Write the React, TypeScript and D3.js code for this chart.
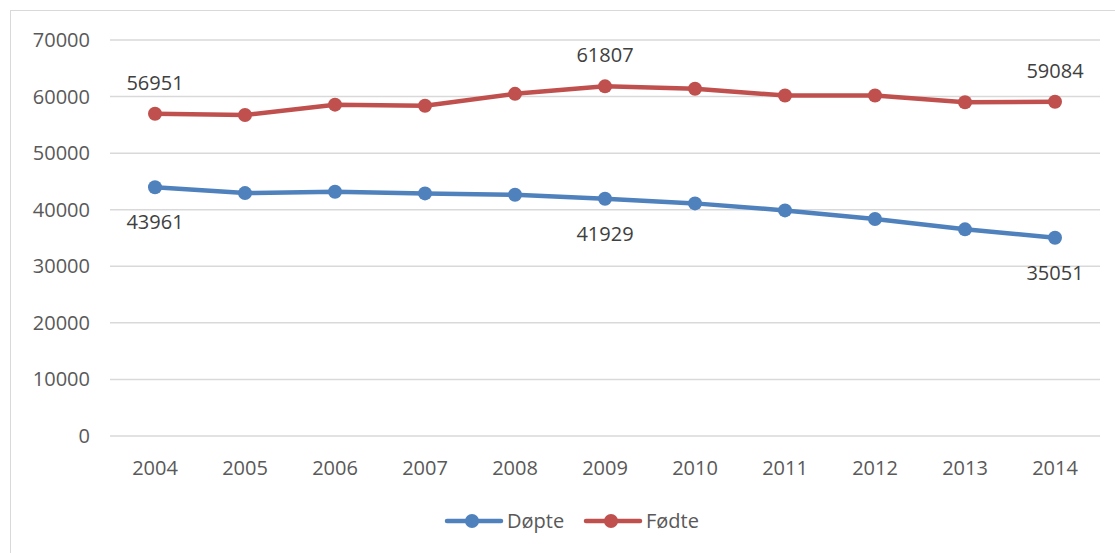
import React from "react";
import * as d3 from "d3";

const years = ["2004", "2005", "2006", "2007", "2008", "2009", "2010", "2011", "2012", "2013", "2014"];
const dopte = [43961, 42941, 43180, 42880, 42650, 41929, 41120, 39880, 38350, 36530, 35051];
const fodte = [56951, 56730, 58570, 58390, 60480, 61807, 61370, 60180, 60180, 58990, 59084];
const yTicks = [0, 10000, 20000, 30000, 40000, 50000, 60000, 70000];
const labelYears = ["2004", "2009", "2014"];

const W = 1115;
const H = 553;
const plotLeft = 110;
const plotRight = 1100;
const plotTop = 40;
const plotBottom = 436;

const BLUE = "#4F81BD";
const RED = "#C0504D";
const TEXT = "#595959";
const GRID = "#D9D9D9";
const FONT = "'Open Sans', 'Liberation Sans', sans-serif";

export default function App() {
  const x = d3.scaleBand<string>().domain(years).range([plotLeft, plotRight]);
  const cx = (yr: string) => (x(yr) as number) + x.bandwidth() / 2;
  const y = d3.scaleLinear().domain([0, 70000]).range([plotBottom, plotTop]);
  const line = d3
    .line<number>()
    .x((_, i) => cx(years[i]))
    .y((d) => y(d));

  const series = [
    { name: "Døpte", values: dopte, color: BLUE, above: false },
    { name: "Fødte", values: fodte, color: RED, above: true },
  ];

  return (
    <svg width={W} height={H} style={{ position: "absolute", left: 0, top: 0, background: "#fff" }} fontFamily={FONT}>
      <rect x={10.5} y={10.5} width={1200} height={700} fill="#fff" stroke="#D9D9D9" strokeWidth={1} />
      {yTicks.map((t) => (
        <g key={t}>
          <line x1={plotLeft} x2={plotRight} y1={y(t)} y2={y(t)} stroke={GRID} strokeWidth={1.5} />
          <text x={90} y={y(t) + 7} textAnchor="end" fontSize={20} fill={TEXT}>
            {t}
          </text>
        </g>
      ))}
      {years.map((yr) => (
        <text key={yr} x={cx(yr)} y={475} textAnchor="middle" fontSize={20} fill={TEXT}>
          {yr}
        </text>
      ))}
      {series.map((s) => (
        <g key={s.name}>
          <path d={line(s.values) || ""} fill="none" stroke={s.color} strokeWidth={4.5} strokeLinejoin="round" />
          {s.values.map((v, i) => (
            <circle key={i} cx={cx(years[i])} cy={y(v)} r={7} fill={s.color} />
          ))}
          {s.values.map((v, i) =>
            labelYears.includes(years[i]) ? (
              <text
                key={"l" + i}
                x={cx(years[i])}
                y={s.above ? y(v) - 24 : y(v) + 42}
                textAnchor="middle"
                fontSize={20}
                fill="#404040"
              >
                {v}
              </text>
            ) : null
          )}
        </g>
      ))}
      {series.map((s, i) => {
        const lx = i === 0 ? 447 : 586;
        return (
          <g key={"lg" + s.name}>
            <line x1={lx} x2={lx + 54} y1={521} y2={521} stroke={s.color} strokeWidth={4.5} strokeLinecap="round" />
            <circle cx={lx + 25} cy={521} r={7} fill={s.color} />
            <text x={lx + 60} y={528} fontSize={20} fill={TEXT}>
              {s.name}
            </text>
          </g>
        );
      })}
    </svg>
  );
}
